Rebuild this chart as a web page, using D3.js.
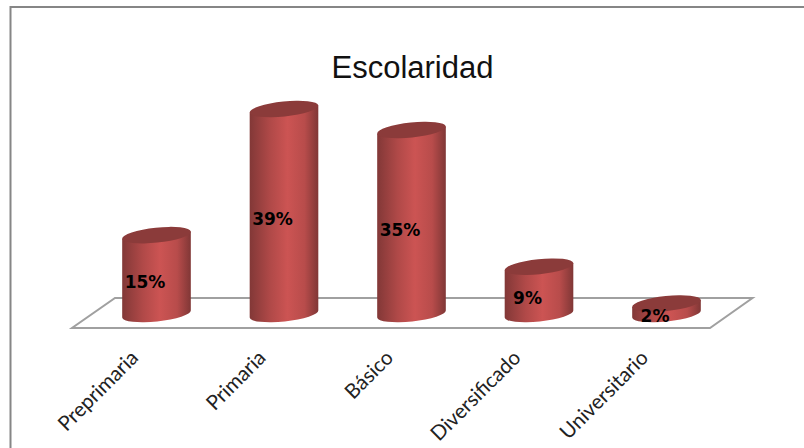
<!DOCTYPE html>
<html>
<head>
<meta charset="utf-8">
<script src="https://cdn.jsdelivr.net/npm/d3@7"></script>
<style>
  html, body { margin: 0; padding: 0; background: #fff; }
  svg { display: block; }
</style>
</head>
<body>
<svg id="chart" width="804" height="448"></svg>
<script>
"use strict";

const categories = ["Preprimaria", "Primaria", "Básico", "Diversificado", "Universitario"];
const values = [15, 39, 35, 9, 2];
const chartTitle = "Escolaridad";

const svg = d3.select("#chart");

const x = d3.scalePoint().domain(categories).range([156.5, 666.5]);
const y = d3.scaleLinear().domain([0, 39]).range([314, 109]);

const rx = 34.5, ry = 7.5, tilt = -6;
const dx = rx * Math.cos(tilt * Math.PI / 180);
const dy = rx * Math.sin(tilt * Math.PI / 180);

// gradient of the cylinder side
const grad = svg.append("defs").append("linearGradient")
  .attr("id", "side")
  .attr("x1", "0%").attr("x2", "100%").attr("y1", "0%").attr("y2", "0%");
grad.append("stop").attr("offset", "0%").attr("stop-color", "#823837");
grad.append("stop").attr("offset", "30%").attr("stop-color", "#b04948");
grad.append("stop").attr("offset", "55%").attr("stop-color", "#cc5453");
grad.append("stop").attr("offset", "80%").attr("stop-color", "#b84c4b");
grad.append("stop").attr("offset", "100%").attr("stop-color", "#803736");

// chart frame: only left and top edges show
svg.append("path")
  .attr("d", "M10.5,448V7H804")
  .attr("fill", "none")
  .attr("stroke", "#868686")
  .attr("stroke-width", 2);

// floor
const first = x(categories[0]), last = x(categories[categories.length - 1]);
svg.append("path")
  .attr("d", `M${first - 84.5},328 L${last + 43.5},328 L${last + 86},298 L${first - 41.5},298 Z`)
  .attr("fill", "#fff")
  .attr("stroke", "#a0a0a0")
  .attr("stroke-width", 2);

// cylinders
const bars = svg.append("g").selectAll("g")
  .data(categories.map((c, i) => ({ c, v: values[i] })))
  .enter()
  .append("g");

bars.append("path")
  .attr("fill", "url(#side)")
  .attr("d", d => {
    const cx = x(d.c), top = y(d.v), base = y(0);
    return `M${cx - dx},${top - dy} L${cx - dx},${base - dy} ` +
      `A${rx},${ry} ${tilt} 0 0 ${cx + dx},${base + dy} ` +
      `L${cx + dx},${top + dy} Z`;
  });

bars.append("ellipse")
  .attr("cx", d => x(d.c))
  .attr("cy", d => y(d.v))
  .attr("rx", rx)
  .attr("ry", ry)
  .attr("transform", d => `rotate(${tilt},${x(d.c)},${y(d.v)})`)
  .attr("fill", "#8b3b3a");

// labels on the bars
bars.append("text")
  .attr("x", d => x(d.c) - 11.5)
  .attr("y", d => (y(d.v) + y(0)) / 2 + 7.5)
  .attr("dy", "0.36em")
  .attr("text-anchor", "middle")
  .attr("font-family", "'DejaVu Sans', sans-serif")
  .attr("font-weight", "bold")
  .attr("font-size", 17)
  .attr("fill", "#000")
  .text(d => d.v + "%");

// category labels
svg.append("g").selectAll("text")
  .data(categories)
  .enter()
  .append("text")
  .attr("transform", d => `translate(${x(d) - 22},354) rotate(-45)`)
  .attr("text-anchor", "end")
  .attr("dy", "0.35em")
  .attr("font-family", "Lato, sans-serif")
  .attr("font-size", 20.5)
  .attr("fill", "#222")
  .text(d => d);

svg.append("text")
  .attr("x", 412.5)
  .attr("y", 78)
  .attr("text-anchor", "middle")
  .attr("font-family", "'Liberation Sans', Arial, sans-serif")
  .attr("font-size", 31)
  .attr("fill", "#111")
  .text(chartTitle);
</script>
</body>
</html>
